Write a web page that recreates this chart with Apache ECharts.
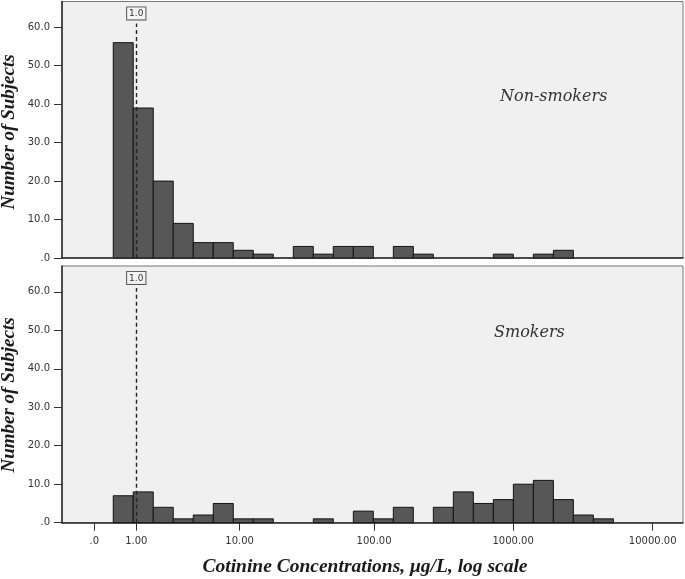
<!DOCTYPE html>
<html>
<head>
<meta charset="utf-8">
<script src="https://cdn.jsdelivr.net/npm/echarts@6/dist/echarts.min.js"></script>
<style>
html,body{margin:0;padding:0;background:#fff}
#main{width:685px;height:579px}
</style>
</head>
<body>
<div id="main"></div>
<script>
// counts per bin, bins equal width on the log10(x+1) axis
let nonSmokers=[56,39,20,9,4,4,2,1,0,3,1,3,3,0,3,1,0,0,0,1,0,1,2,0,0]
let smokers=[7,8,4,1,2,5,1,1,0,0,1,0,3,1,4,0,4,8,5,6,10,11,6,2,1]
let binStart=0.136
let binWidth=0.1433
let tickValues=[0,1,10,100,1000,10000]
let tickLabels=['.0','1.00','10.00','100.00','1000.00','10000.00']
let yTicks=[0,10,20,30,40,50,60]
let refValue=1.0

let lg=v=>Math.log10(v+1)
let xMin=-0.231, xMax=4.217
let yMax=66.7

function toBins(counts){
  let arr=[]
  counts.forEach((c,i)=>{
    if(c>0) arr.push([binStart+i*binWidth,binStart+(i+1)*binWidth,c])
  })
  return arr
}

function renderBar(params,api){
  let p0=api.coord([api.value(0),api.value(2)])
  let p1=api.coord([api.value(1),0])
  return {
    type:'rect',
    shape:{x:p0[0],y:p0[1],width:p1[0]-p0[0],height:p1[1]-p0[1]},
    style:{fill:'#575757',stroke:'#141414',lineWidth:1}
  }
}

let labelFont={fontFamily:'DejaVu Sans',fontSize:10,color:'#333'}
let titleFont='italic bold 19px "Liberation Serif"'

function yAxisOpt(idx){
  return {
    type:'value',gridIndex:idx,min:0,max:yMax,
    axisLine:{show:true,onZero:false,lineStyle:{color:'#2a2a2a',width:1.5}},
    axisTick:{show:true,length:8,customValues:yTicks,lineStyle:{color:'#333'}},
    axisLabel:Object.assign({margin:12,customValues:yTicks,
      formatter:v=>v===0?'.0':v.toFixed(1)},labelFont),
    splitLine:{show:false}
  }
}

function xAxisOpt(idx,showLabels){
  return {
    type:'value',gridIndex:idx,min:xMin,max:xMax,
    axisLine:{show:true,onZero:false,lineStyle:{color:'#2a2a2a',width:1.5}},
    axisTick:{show:showLabels,length:8,customValues:tickValues.map(lg),lineStyle:{color:'#333'}},
    axisLabel:Object.assign({show:showLabels,margin:14,customValues:tickValues.map(lg),
      formatter:v=>{
        let i=tickValues.findIndex(t=>Math.abs(lg(t)-v)<1e-6)
        return i>=0?tickLabels[i]:''
      }},labelFont),
    splitLine:{show:false}
  }
}

function refLine(idx){
  return {
    type:'line',xAxisIndex:idx,yAxisIndex:idx,data:[],
    markLine:{
      silent:true,symbol:['none','none'],animation:false,
      lineStyle:{type:[4,3],color:'#222',width:1.4},
      label:{show:true,position:'end',distance:4,formatter:refValue.toFixed(1),
        fontFamily:'DejaVu Sans',fontSize:9,color:'#333',
        backgroundColor:'#f4f4f4',borderColor:'#555',borderWidth:1,padding:[2,2,1,2]},
      data:[[{coord:[lg(refValue),0]},{coord:[lg(refValue),61]}]]
    }
  }
}

function yTitle(cy){
  return {type:'text',x:9,y:cy,rotation:Math.PI/2,
    style:{text:'Number of Subjects',font:titleFont,fill:'#1a1a1a',align:'center',verticalAlign:'middle'}}
}

let chart=echarts.init(document.getElementById('main'))
let option={
  animation:false,
  grid:[
    {left:62,right:2,top:1.5,height:256.5,show:true,backgroundColor:'#f0f0f0',borderColor:'#777',borderWidth:1,outerBoundsMode:'none'},
    {left:62,right:2,top:266,height:256.7,show:true,backgroundColor:'#f0f0f0',borderColor:'#777',borderWidth:1,outerBoundsMode:'none'}
  ],
  xAxis:[xAxisOpt(0,false),xAxisOpt(1,true)],
  yAxis:[yAxisOpt(0),yAxisOpt(1)],
  graphic:[
    yTitle(132),
    yTitle(395),
    {type:'text',left:500,top:89,style:{text:'Non-smokers',font:'italic 16px "DejaVu Serif"',fill:'#333'}},
    {type:'text',left:494,top:325,style:{text:'Smokers',font:'italic 16px "DejaVu Serif"',fill:'#333'}},
    {type:'text',x:365,y:567,style:{text:'Cotinine Concentrations, μg/L, log scale',
      font:'italic bold 19.5px "Liberation Serif"',fill:'#1a1a1a',align:'center',verticalAlign:'middle'}}
  ],
  series:[
    {type:'custom',xAxisIndex:0,yAxisIndex:0,renderItem:renderBar,encode:{x:[0,1],y:2},data:toBins(nonSmokers)},
    {type:'custom',xAxisIndex:1,yAxisIndex:1,renderItem:renderBar,encode:{x:[0,1],y:2},data:toBins(smokers)},
    refLine(0),
    refLine(1)
  ]
}
chart.setOption(option)
</script>
</body>
</html>
